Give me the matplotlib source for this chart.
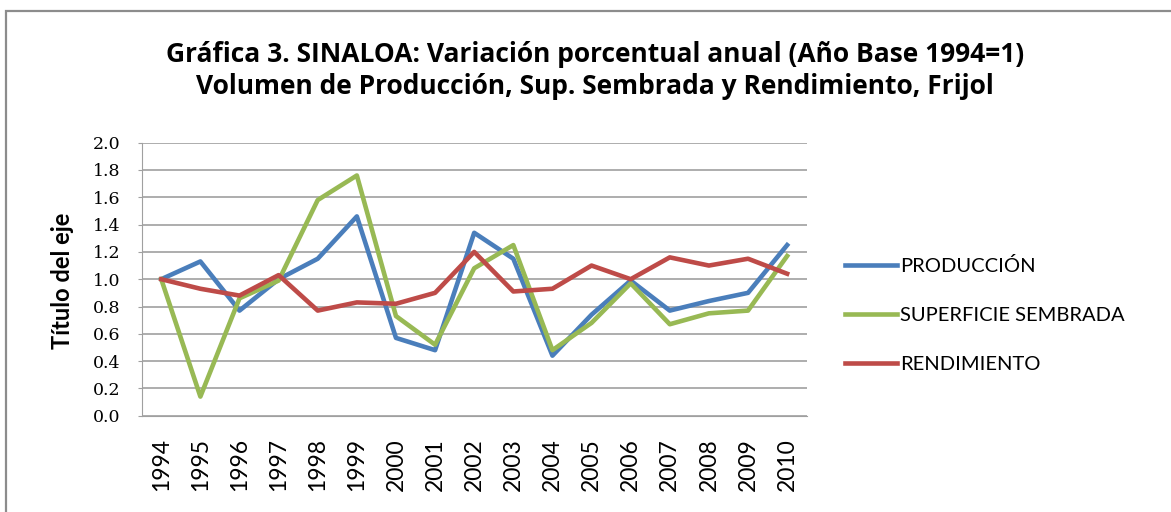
import matplotlib
matplotlib.use('Agg')
import matplotlib.pyplot as plt
from matplotlib.patches import Rectangle

# datos
years = ['1994', '1995', '1996', '1997', '1998', '1999', '2000', '2001', '2002',
         '2003', '2004', '2005', '2006', '2007', '2008', '2009', '2010']
produccion = [1.00, 1.13, 0.77, 1.00, 1.15, 1.46, 0.57, 0.48, 1.34,
              1.15, 0.44, 0.74, 0.99, 0.77, 0.84, 0.90, 1.25]
superficie = [1.00, 0.14, 0.86, 0.99, 1.58, 1.76, 0.73, 0.52, 1.08,
              1.25, 0.48, 0.68, 0.97, 0.67, 0.75, 0.77, 1.17]
rendimiento = [1.00, 0.93, 0.88, 1.03, 0.77, 0.83, 0.82, 0.90, 1.20,
               0.91, 0.93, 1.10, 1.00, 1.16, 1.10, 1.15, 1.04]

W, H = 1171, 512
fig = plt.figure(figsize=(W / 100, H / 100), dpi=100)

# marco del area de grafico
fig.patches.append(Rectangle((6 / W, -0.1), 1.2, 1 - 11 / H + 0.1,
                             transform=fig.transFigure, fill=False,
                             edgecolor='#8c8c8c', linewidth=1.6))

ax = fig.add_axes([141.7 / W, 1 - 415.7 / H, 665 / W, 273 / H])

x = range(len(years))
ax.plot(x, produccion, color='#4a7ebb', lw=3.3, label='PRODUCCIÓN')
ax.plot(x, superficie, color='#98b954', lw=3.3, label='SUPERFICIE SEMBRADA')
ax.plot(x, rendimiento, color='#be4b48', lw=3.3, label='RENDIMIENTO')

ax.set_xlim(-0.5, len(years) - 0.5)
ax.set_ylim(0, 2.0)
ax.set_yticks([i / 10 for i in range(0, 21, 2)])
ax.set_yticklabels([f'{i / 10:.1f}' for i in range(0, 21, 2)],
                   family='DejaVu Serif', fontsize=12.5)
ax.set_xticks(list(x))
ax.set_xticklabels(years, rotation=90, family='Lato', fontsize=16.5)
ax.grid(axis='y', color='#a0a0a0', lw=1.2)
ax.set_axisbelow(True)
for s in ['top', 'right']:
    ax.spines[s].set_visible(False)
ax.spines['left'].set_color('#a0a0a0')
ax.spines['bottom'].set_color('#a0a0a0')
ax.tick_params(axis='y', length=3, color='#a0a0a0', pad=12)
ax.tick_params(axis='x', length=0, pad=16)

fig.text(62 / W, 1 - 281 / H, 'Título del eje', rotation=90, ha='center',
         va='center', family='Lato', fontweight='bold', fontsize=17)

fig.text(595 / W, 1 - 62 / H,
         'Gráfica 3. SINALOA: Variación porcentual anual (Año Base 1994=1)',
         ha='center', va='baseline', family='Open Sans', fontweight='bold',
         fontsize=19)
fig.text(595 / W, 1 - 94 / H,
         'Volumen de Producción, Sup. Sembrada y Rendimiento, Frijol',
         ha='center', va='baseline', family='Open Sans', fontweight='bold',
         fontsize=19)

fig.legend(loc='center left', bbox_to_anchor=(845 / W, 1 - 315 / H),
           frameon=False, borderpad=0, borderaxespad=0, handlelength=2.6,
           handletextpad=0.15, labelspacing=1.58,
           prop={'family': 'Lato', 'size': 14.5})

fig.savefig('out.png', dpi=100)
